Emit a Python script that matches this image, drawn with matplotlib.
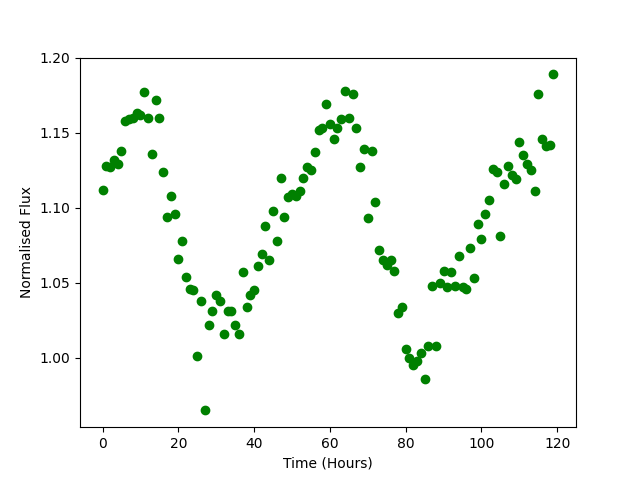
import matplotlib
matplotlib.use("Agg")
import matplotlib.pyplot as plt
import numpy as np

# time in hours (one sample per hour)
hours = np.arange(0, 120, 1.0)

# normalised flux
flux = [
    1.112, 1.128, 1.127, 1.132, 1.129, 1.138, 1.158, 1.159, 1.160, 1.163,
    1.162, 1.177, 1.160, 1.136, 1.172, 1.160, 1.124, 1.094, 1.108, 1.096,
    1.066, 1.078, 1.054, 1.046, 1.045, 1.001, 1.038, 0.965, 1.022, 1.031,
    1.042, 1.038, 1.016, 1.031, 1.031, 1.022, 1.016, 1.057, 1.034, 1.042,
    1.045, 1.061, 1.069, 1.088, 1.065, 1.098, 1.078, 1.120, 1.094, 1.107,
    1.109, 1.108, 1.111, 1.120, 1.127, 1.125, 1.137, 1.152, 1.153, 1.169,
    1.156, 1.146, 1.153, 1.159, 1.178, 1.160, 1.176, 1.153, 1.127, 1.139,
    1.093, 1.138, 1.104, 1.072, 1.065, 1.062, 1.065, 1.058, 1.030, 1.034,
    1.006, 1.000, 0.995, 0.998, 1.003, 0.986, 1.008, 1.048, 1.008, 1.050,
    1.058, 1.047, 1.057, 1.048, 1.068, 1.047, 1.046, 1.073, 1.053, 1.089,
    1.079, 1.096, 1.105, 1.126, 1.124, 1.081, 1.116, 1.128, 1.122, 1.119,
    1.144, 1.135, 1.129, 1.125, 1.111, 1.176, 1.146, 1.141, 1.142, 1.189,
]

plt.figure(figsize=(6.4, 4.8), dpi=100)
plt.plot(hours, flux, 'o', color='green')
plt.xlabel('Time (Hours)')
plt.ylabel('Normalised Flux')
plt.savefig('out.png')
